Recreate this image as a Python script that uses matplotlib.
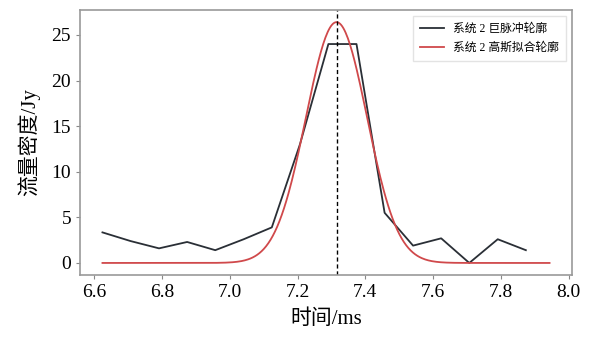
import matplotlib.pyplot as plt
import numpy as np

plt.rcParams['font.family'] = ['Liberation Serif', 'Noto Sans CJK SC']
plt.rcParams['axes.unicode_minus'] = False

# pulse profile samples (time in ms, flux in Jy)
time_ms = [6.624, 6.707, 6.791, 6.874, 6.957, 7.041, 7.124, 7.207,
           7.291, 7.374, 7.457, 7.541, 7.624, 7.707, 7.791, 7.874]
flux_jy = [3.35, 2.4, 1.6, 2.3, 1.4, 2.6, 3.9, 13.0,
           24.0, 24.0, 5.5, 1.9, 2.7, 0.0, 2.6, 1.4]

# gaussian fit parameters
fit_amp = 26.4
fit_center = 7.315
fit_sigma = 0.09
fit_start, fit_end = 6.624, 7.944

label_pulse = "系统 2 巨脉冲轮廓"
label_fit = "系统 2 高斯拟合轮廓"

fig = plt.figure(figsize=(5.89, 3.37), dpi=100)
ax = fig.add_axes([0.136, 0.184, 0.835, 0.786])

t_fit = np.linspace(fit_start, fit_end, 400)
f_fit = fit_amp * np.exp(-(t_fit - fit_center) ** 2 / (2 * fit_sigma ** 2))

ax.plot(time_ms, flux_jy, color="#2a2f36", lw=1.3, label=label_pulse)
ax.plot(t_fit, f_fit, color="#d0494b", lw=1.3, label=label_fit)
ax.axvline(fit_center, color="black", lw=1.0, ls=(0, (3, 2)))

ax.set_xticks([6.6, 6.8, 7.0, 7.2, 7.4, 7.6, 7.8, 8.0])
ax.set_yticks([0, 5, 10, 15, 20, 25])
ax.tick_params(labelsize=14, length=3, color="#888888")
for s in ax.spines.values():
    s.set_color("#999999")
    s.set_linewidth(1.2)

ax.set_xlabel("时间/ms", fontsize=15, labelpad=6)
ax.set_ylabel("流量密度/Jy", fontsize=15, labelpad=8)
ax.legend(loc="upper right", fontsize=8.5, frameon=True, fancybox=False,
          edgecolor="#dddddd", handlelength=2.0, labelspacing=0.6,
          borderpad=0.6)

fig.savefig("out.png", dpi=100)
